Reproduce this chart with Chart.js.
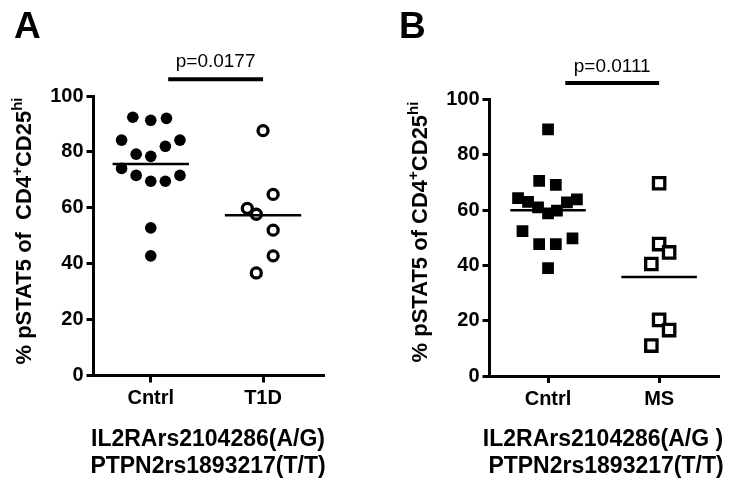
<!DOCTYPE html>
<html>
<head>
<meta charset="utf-8">
<script src="https://cdn.jsdelivr.net/npm/chart.js@4.4.1/dist/chart.umd.min.js"></script>
<style>
    html, body { margin: 0; padding: 0; background: #fff; }
    body { width: 730px; height: 485px; position: relative; overflow: hidden;
           font-family: "Liberation Sans", Arial, sans-serif; color: #000; }
    .panel { position: absolute; top: 0; width: 365px; height: 485px; }
    .letter { position: absolute; font-size: 37px; font-weight: bold; line-height: 1; }
    .ytitle { position: absolute; font-size: 22px; font-weight: bold; white-space: nowrap;
              transform: translate(-50%, -50%) rotate(-90deg); line-height: 1; }
    .ytitle sup { font-size: 15px; vertical-align: 9px; line-height: 0; }
    .foot { position: absolute; font-size: 23px; font-weight: bold; white-space: pre;
            transform: translateX(-50%); line-height: 1; }
</style>
</head>
<body>
<div class="panel" style="left:0"><canvas id="chartA"></canvas></div>
<div class="panel" style="left:365px"><canvas id="chartB"></canvas></div>

<div class="letter" style="left:14px; top:7px">A</div>
<div class="letter" style="left:399px; top:7px">B</div>

<div class="ytitle" style="left:24px; top:231px">% pSTAT5 of &nbsp;CD4<sup>+</sup>CD25<sup>hi</sup></div>
<div class="ytitle" style="left:420px; top:232px">% pSTAT5 of CD4<sup>+</sup>CD25<sup>hi</sup></div>

<div class="foot" style="left:208px; top:427px">IL2RArs2104286(A/G)</div>
<div class="foot" style="left:208px; top:454px">PTPN2rs1893217(T/T)</div>
<div class="foot" style="left:603px; top:427px">IL2RArs2104286(A/G )</div>
<div class="foot" style="left:606px; top:454px">PTPN2rs1893217(T/T)</div>

<script>
'use strict';

const FONT = '"Liberation Sans", Arial, sans-serif';

// Panel A: control vs T1D
const groupsA = ['Cntrl', 'T1D'];
const cntrlA = [92.4, 91.3, 92.0, 84.2, 84.2, 82.0, 79.2, 78.4, 74.1, 71.6, 69.5, 69.5, 71.6, 52.8, 42.8];
const cntrlAJitter = [-0.16, 0, 0.14, -0.26, 0.26, 0.13, -0.13, 0, -0.26, -0.13, 0, 0.13, 0.26, 0, 0];
const t1d = [87.6, 64.8, 59.8, 57.7, 52.0, 42.8, 36.7];
const t1dJitter = [0, 0.09, -0.14, -0.06, 0.09, 0.09, -0.06];
const pValueA = 'p=0.0177';

// Panel B: control vs MS
const groupsB = ['Cntrl', 'MS'];
const cntrlB = [89.2, 70.6, 69.1, 64.3, 63.0, 63.9, 62.8, 61.0, 59.8, 58.8, 52.4, 47.7, 47.7, 49.8, 39.0];
const cntrlBJitter = [0, -0.08, 0.07, -0.27, -0.18, 0.26, 0.17, -0.09, 0.08, 0, -0.23, -0.08, 0.07, 0.22, 0];
const ms = [69.7, 47.7, 44.7, 40.5, 20.3, 16.6, 11.0];
const msJitter = [0, 0, 0.09, -0.07, 0, 0.09, -0.07];
const pValueB = 'p=0.0111';

const yTicks = [0, 20, 40, 60, 80, 100];

const mean = arr => arr.reduce((a, b) => a + b, 0) / arr.length;

function points(values, jitter, center) {
    return values.map((v, i) => ({ x: center + jitter[i], y: v }));
}

function meanLine(values, center) {
    const m = mean(values);
    return {
        type: 'line',
        data: [{ x: center - 0.34, y: m }, { x: center + 0.34, y: m }],
        borderColor: '#000', borderWidth: 2.5, pointRadius: 0, showLine: true
    };
}

// p-value text above the significance bar
const pLabel = {
    id: 'pLabel',
    afterDraw(chart, args, opts) {
        const ctx = chart.ctx;
        const x = chart.scales.x.getPixelForValue((opts.x0 + opts.x1) / 2);
        const y = chart.scales.y.getPixelForValue(opts.y);
        ctx.save();
        ctx.fillStyle = '#000';
        ctx.font = '19px ' + FONT;
        ctx.textAlign = 'center';
        ctx.textBaseline = 'alphabetic';
        ctx.fillText(opts.text, x, y - opts.gap);
        ctx.restore();
    }
};

function makeChart(id, cfg) {
    const axisBlack = { display: true, color: '#000', width: 3 };
    const tickGrid = { display: true, drawOnChartArea: false, drawTicks: true, tickLength: 7, lineWidth: 3, color: '#000' };
    const barY = 106;

    return new Chart(document.getElementById(id), {
        type: 'scatter',
        data: {
            datasets: [
                meanLine(cfg.a, 1),
                meanLine(cfg.b, 2),
                {
                    type: 'line',
                    data: [{ x: 1.155, y: barY }, { x: 2.0, y: barY }],
                    borderColor: '#000', borderWidth: 4, pointRadius: 0, clip: false
                },
                {
                    data: points(cfg.a, cfg.aJitter, 1),
                    pointStyle: cfg.style, pointRadius: cfg.fillR,
                    backgroundColor: '#000', borderWidth: 0
                },
                {
                    data: points(cfg.b, cfg.bJitter, 2),
                    pointStyle: cfg.style, pointRadius: cfg.hollowR,
                    backgroundColor: '#fff', borderColor: '#000', borderWidth: 3.3
                }
            ]
        },
        options: {
            responsive: true,
            maintainAspectRatio: false,
            animation: false,
            events: [],
            layout: { padding: { left: 0, top: cfg.top, right: cfg.right, bottom: 485 - cfg.bottom - 40 } },
            plugins: {
                legend: { display: false },
                tooltip: { enabled: false },
                pLabel: { text: cfg.p, x0: 1.155, x1: 2.0, y: barY, gap: cfg.gap }
            },
            scales: {
                x: {
                    type: 'linear', min: cfg.xmin, max: cfg.xmax,
                    afterBuildTicks: s => { s.ticks = [{ value: 1 }, { value: 2 }]; },
                    afterFit: s => { s.height = 40; },
                    ticks: {
                        callback: (v, i) => cfg.groups[i],
                        color: '#000', padding: 4, maxRotation: 0, autoSkip: false,
                        font: { family: FONT, size: 20, weight: 'bold' }
                    },
                    grid: tickGrid,
                    border: axisBlack
                },
                y: {
                    min: 0, max: 100,
                    afterBuildTicks: s => { s.ticks = yTicks.map(v => ({ value: v })); },
                    afterFit: s => { s.width = cfg.left; },
                    ticks: {
                        color: '#000', padding: 3,
                        font: { family: FONT, size: 20, weight: 'bold' }
                    },
                    grid: tickGrid,
                    border: axisBlack
                }
            }
        },
        plugins: [pLabel]
    });
}

makeChart('chartA', {
    a: cntrlA, aJitter: cntrlAJitter, b: t1d, bJitter: t1dJitter, groups: groupsA, p: pValueA,
    style: 'circle', fillR: 5.8, hollowR: 5.0,
    left: 93.5, top: 96, bottom: 375.5, right: 42, xmin: 0.49, xmax: 2.534, gap: 12
});

makeChart('chartB', {
    a: cntrlB, aJitter: cntrlBJitter, b: ms, bJitter: msJitter, groups: groupsB, p: pValueB,
    style: 'rect', fillR: 8.3, hollowR: 8.0,
    left: 124.5, top: 99.5, bottom: 376, right: 12, xmin: 0.473, xmax: 2.53, gap: 11
});
</script>
</body>
</html>
